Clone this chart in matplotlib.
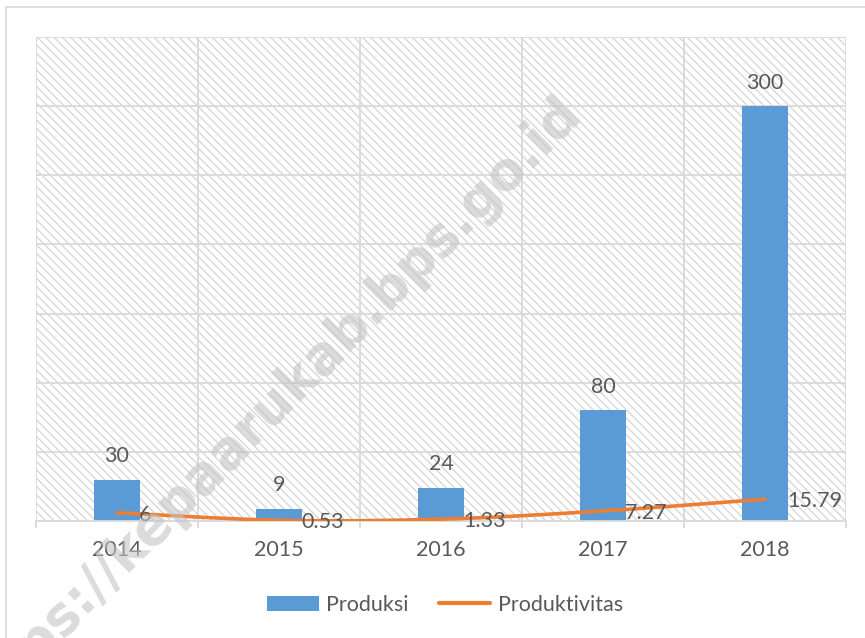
import numpy as np
import matplotlib
matplotlib.use("Agg")
import matplotlib.pyplot as plt
from matplotlib.patches import Rectangle
from matplotlib.lines import Line2D
from matplotlib.patches import Patch

categories = ["2014", "2015", "2016", "2017", "2018"]
produksi = [30, 9, 24, 80, 300]
produktivitas = [6, 0.53, 1.33, 7.27, 15.79]
produktivitas_labels = ["6", "0.53", "1.33", "7.27", "15.79"]
series_names = ["Produksi", "Produktivitas"]

BLUE = "#5B9BD5"
ORANGE = "#ED7D31"
GRID = "#d9d9d9"
TEXT = "#595959"
FONT = "Lato"
FS = 15.5

plt.rcParams["hatch.linewidth"] = 0.9

fig = plt.figure(figsize=(8.65, 6.38), dpi=100)
ax = fig.add_axes([36/865, 1-521/638, (846-36)/865, (521-37)/638])

# outer chart border
fig.patches.append(Rectangle((6/865, -0.1), 1.2, 1.1 - 7/638, transform=fig.transFigure,
                             fill=False, edgecolor=GRID, linewidth=1.2, zorder=0))

x = np.arange(len(categories))
ax.set_xlim(-0.5, len(categories) - 0.5)
ax.set_ylim(0, 350)

# hatched plot area background
ax.add_patch(Rectangle((0, 0), 1, 1, transform=ax.transAxes, facecolor="white",
                       edgecolor="#d4d4d4", linewidth=0, hatch="\\\\\\\\", zorder=0))

# gridlines
for yv in np.arange(50, 351, 50):
    ax.axhline(yv, color=GRID, linewidth=1.3, zorder=1)
for xv in np.arange(-0.5, len(categories), 1.0):
    ax.axvline(xv, color=GRID, linewidth=1.3, zorder=1)

bars = ax.bar(x, produksi, width=0.29, color=BLUE, zorder=2)

# smoothed line (Excel-like bezier smoothing through data points)
xs, ys = [], []
n = len(x)
P = np.column_stack([x.astype(float), np.array(produktivitas, dtype=float)])
t = np.linspace(0, 1, 40)
for i in range(n - 1):
    p0 = P[i - 1] if i > 0 else P[i]
    p1 = P[i]
    p2 = P[i + 1]
    p3 = P[i + 2] if i + 2 < n else P[i + 1]
    c1 = p1 + (p2 - p0) / 6
    c2 = p2 - (p3 - p1) / 6
    seg = ((1 - t)[:, None] ** 3 * p1 + 3 * ((1 - t) ** 2 * t)[:, None] * c1
           + 3 * ((1 - t) * t ** 2)[:, None] * c2 + (t ** 3)[:, None] * p2)
    xs.extend(seg[:, 0]); ys.extend(seg[:, 1])
ax.plot(xs, ys, color=ORANGE, linewidth=2.6, solid_capstyle="round", zorder=3)

for xi, v in zip(x, produksi):
    ax.annotate(str(v), (xi, v), xytext=(0, 17), textcoords="offset points",
                ha="center", va="center", fontsize=FS, family=FONT, color=TEXT, zorder=4)
for xi, v, lab in zip(x, produktivitas, produktivitas_labels):
    ax.annotate(lab, (xi, v), xytext=(16, -1.5), textcoords="offset points",
                ha="left", va="center", fontsize=FS, family=FONT, color=TEXT, zorder=4)

for s in ["top", "right", "left"]:
    ax.spines[s].set_visible(False)
ax.spines["bottom"].set_color(GRID)
ax.spines["bottom"].set_linewidth(1.3)
ax.set_yticks([])
ax.set_xticks(x)
ax.set_xticklabels(categories, fontsize=FS, family=FONT, color=TEXT)
ax.tick_params(axis="x", length=0, pad=14)
ax.set_xticks(np.arange(-0.5, len(categories), 1.0), minor=True)
ax.tick_params(axis="x", which="minor", length=5, color=GRID, width=1.3)

handles = [Patch(facecolor=BLUE, edgecolor="none"),
           Line2D([0], [0], color=ORANGE, linewidth=3, solid_capstyle="round")]
fig.legend(handles, series_names, loc="center", bbox_to_anchor=(445/865, 1-605/638),
           ncol=2, frameon=False, handlelength=2.4, handleheight=0.7, handletextpad=0.35,
           columnspacing=1.4, prop={"family": FONT, "size": FS}, labelcolor=TEXT)

# watermark
fig.text(267/865, 1-409/638, "https://kepaarukab.bps.go.id", rotation=45,
         rotation_mode="anchor", ha="center", va="center", fontsize=38,
         fontweight="bold", family="DejaVu Sans", color="#c4c4c4", alpha=0.6, zorder=10)

fig.savefig("out.png", dpi=100)
